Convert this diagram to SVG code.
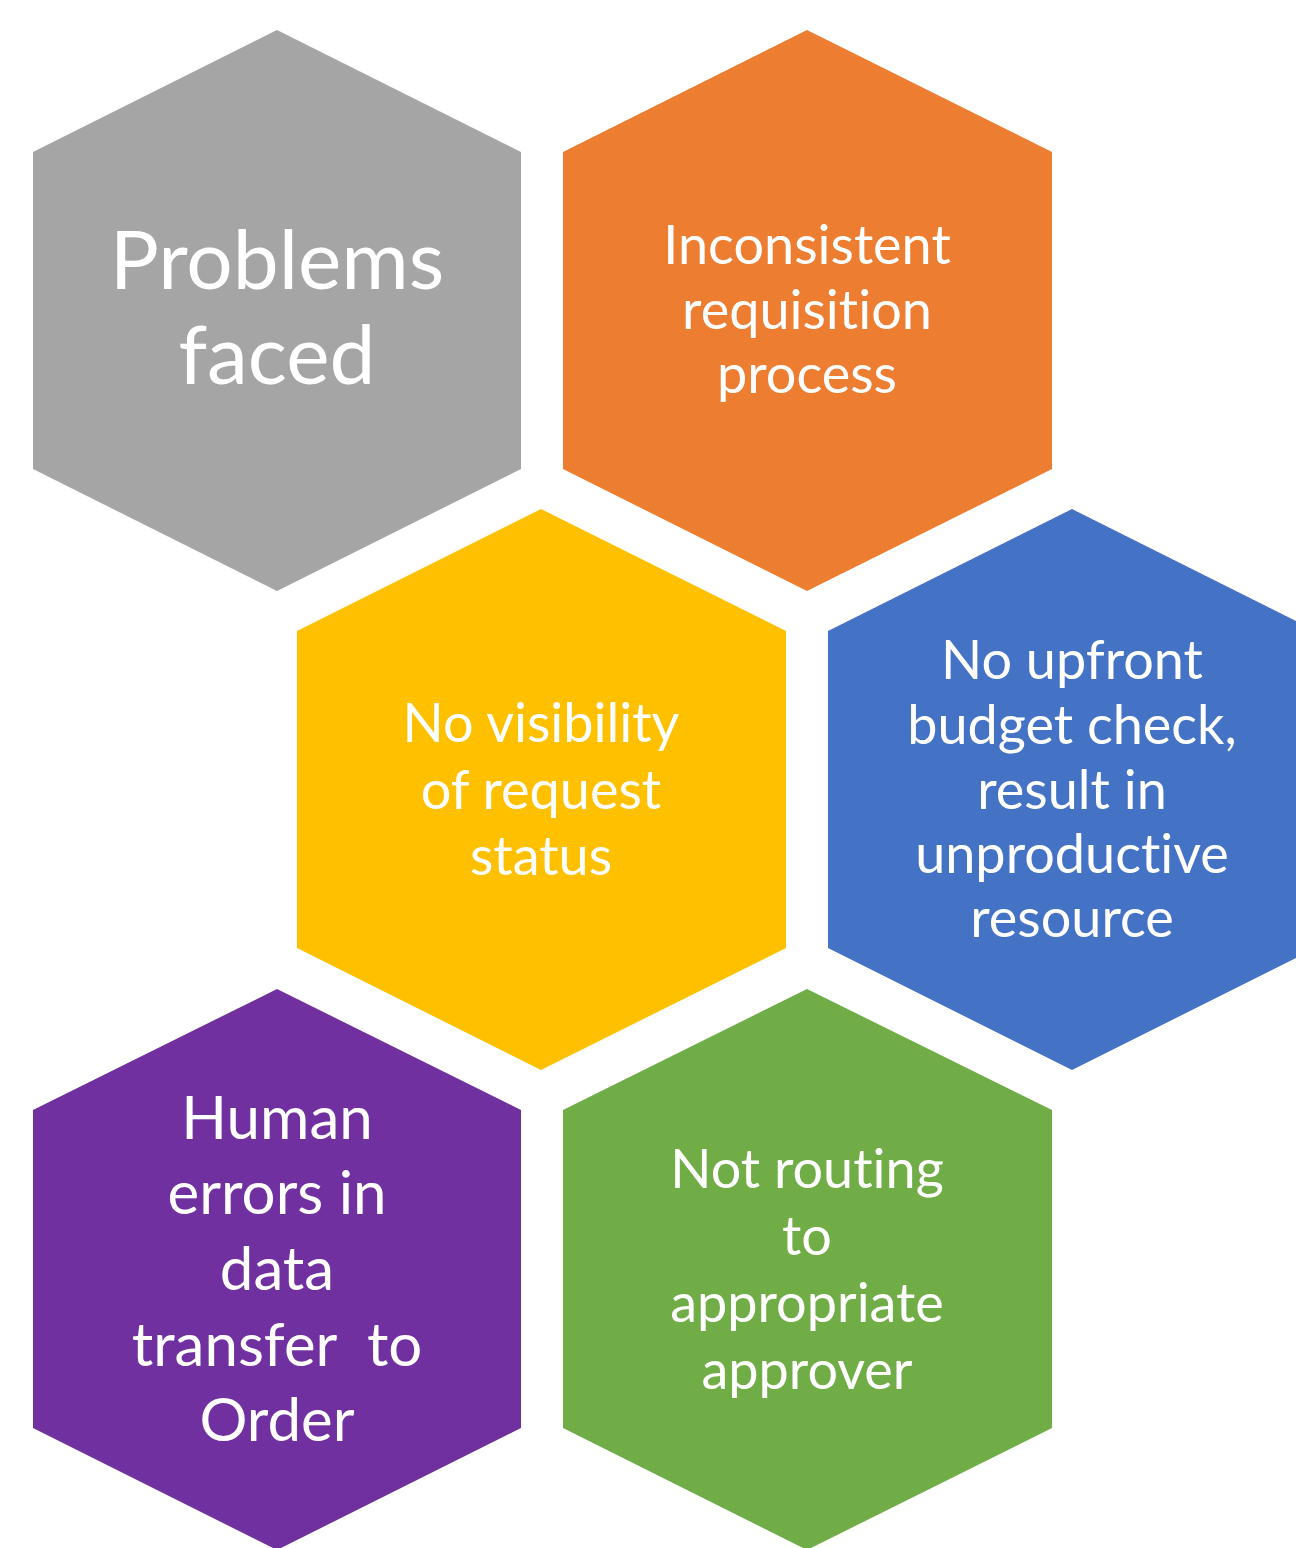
<svg xmlns="http://www.w3.org/2000/svg" width="1296" height="1548" viewBox="0 0 1296 1548">
<style>
.t{font-family:"Lato","Open Sans",sans-serif;fill:#fff;text-anchor:middle;font-variant-ligatures:none;white-space:pre}
.s{font-size:54px}
.b{font-size:60px}
.h{font-size:82px}
</style>
<rect width="1296" height="1548" fill="#fff"/>
<g id="n1"><polygon points="277,30 521,152 521,469 277,591 33,469 33,152" fill="#A5A5A5"/>
<text class="t h" x="277" y="289">Problems</text><text class="t h" x="277" y="384">faced</text></g>
<g id="n2"><polygon points="807,30 1052,152 1052,469 807,591 563,469 563,152" fill="#ED7D31"/>
<text class="t s" x="807" y="264">Inconsistent</text><text class="t s" x="807" y="329">requisition</text><text class="t s" x="807" y="393">process</text></g>
<g id="n3"><polygon points="541,509 786,631 786,948 541,1070 297,948 297,631" fill="#FFC000"/>
<text class="t s" x="541" y="742">No visibility</text><text class="t s" x="541" y="809">of request</text><text class="t s" x="541" y="875">status</text></g>
<g id="n4"><polygon points="1072,509 1316,631 1316,948 1072,1070 828,948 828,631" fill="#4472C4"/>
<text class="t s" x="1072" y="679">No upfront</text><text class="t s" x="1072" y="744">budget check,</text><text class="t s" x="1072" y="809">result in</text><text class="t s" x="1072" y="873">unproductive</text><text class="t s" x="1072" y="937">resource</text></g>
<g id="n5"><polygon points="277,989 521,1110 521,1428 277,1550 33,1428 33,1110" fill="#7030A0"/>
<text class="t b" x="277" y="1139">Human</text><text class="t b" x="277" y="1214">errors in</text><text class="t b" x="277" y="1290">data</text><text class="t b" x="277" y="1366" xml:space="preserve">transfer  to</text><text class="t b" x="277" y="1441">Order</text></g>
<g id="n6"><polygon points="807,989 1052,1110 1052,1428 807,1550 563,1428 563,1110" fill="#70AD47"/>
<text class="t s" x="807" y="1188">Not routing</text><text class="t s" x="807" y="1255">to</text><text class="t s" x="807" y="1322">appropriate</text><text class="t s" x="807" y="1389">approver</text></g>
<g id="connectors"/>
</svg>
